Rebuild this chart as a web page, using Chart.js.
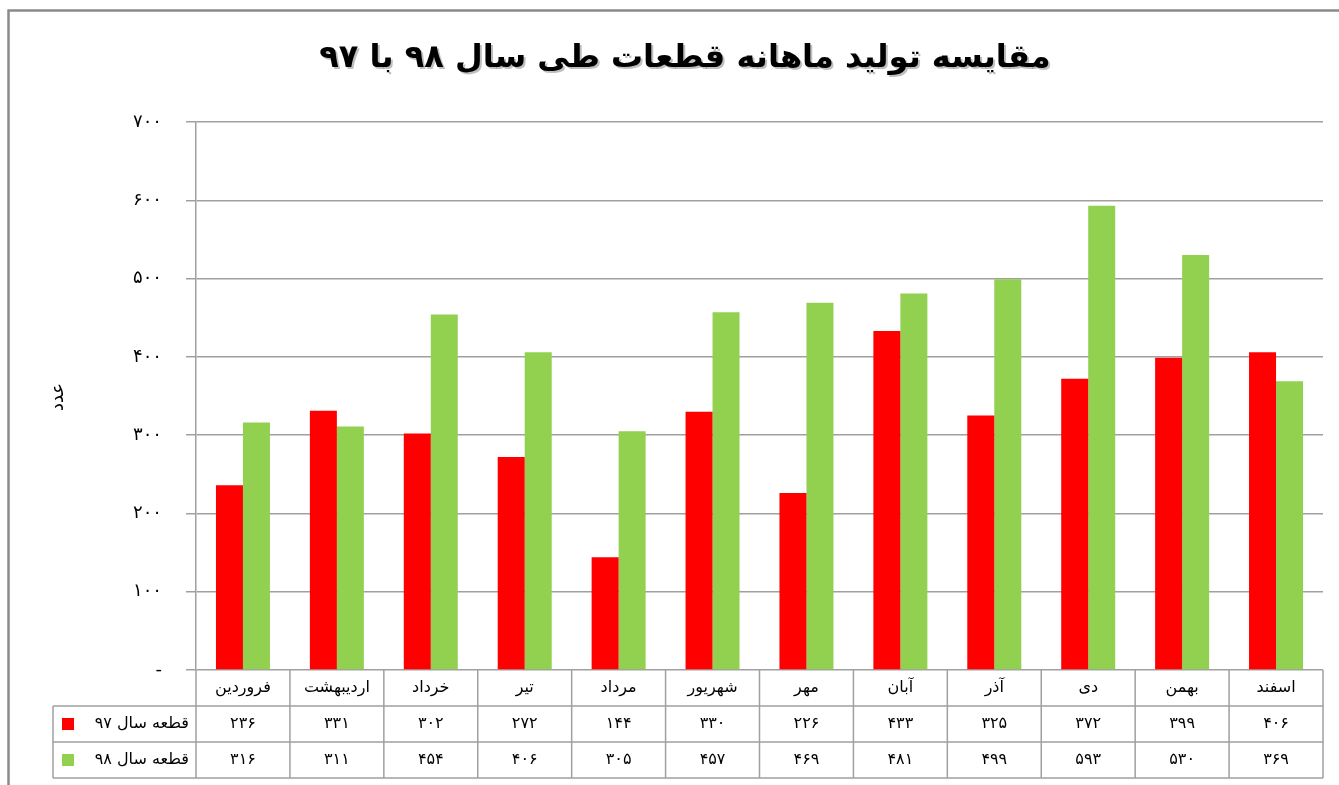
<!DOCTYPE html>
<html lang="fa">
<head>
<meta charset="utf-8">
<script src="https://cdn.jsdelivr.net/npm/chart.js@4.4.0/dist/chart.umd.min.js"></script>
<style>
  html, body { margin: 0; padding: 0; background: #fff; }
  #wrap { position: relative; width: 1339px; height: 785px; }
</style>
</head>
<body>
<div id="wrap"><canvas id="c" width="1339" height="785"></canvas></div>
<script>
const chartTitle = "مقایسه تولید ماهانه قطعات طی سال ۹۸ با ۹۷";
const yAxisTitle = "عدد";
const months = ["فروردین", "اردیبهشت", "خرداد", "تیر", "مرداد", "شهریور", "مهر", "آبان", "آذر", "دی", "بهمن", "اسفند"];
const series97Name = "قطعه سال ۹۷";
const series98Name = "قطعه سال ۹۸";
const series97 = [236, 331, 302, 272, 144, 330, 226, 433, 325, 372, 399, 406];
const series98 = [316, 311, 454, 406, 305, 457, 469, 481, 499, 593, 530, 369];
const yMin = 0, yMax = 700, yStep = 100;

const FONT = '"DejaVu Sans", "Noto Sans", sans-serif';

function fa(n) {
  return String(n).replace(/\d/g, d => "۰۱۲۳۴۵۶۷۸۹"[+d]);
}

const decorPlugin = {
  id: 'decor',
  beforeDraw(chart) {
    const ctx = chart.ctx;
    ctx.save();
    ctx.fillStyle = '#fff';
    ctx.fillRect(0, 0, chart.width, chart.height);
    ctx.restore();
  },
  afterDraw(chart) {
    const ctx = chart.ctx;
    const ca = chart.chartArea;
    const xs = chart.scales.x;
    const n = months.length;
    const colW = (ca.right - ca.left) / n;
    ctx.save();

    // outer frame
    ctx.strokeStyle = '#8a8a8a';
    ctx.lineWidth = 2.5;
    ctx.beginPath();
    ctx.moveTo(8.5, chart.height + 5);
    ctx.lineTo(8.5, 10.5);
    ctx.lineTo(chart.width + 5, 10.5);
    ctx.stroke();

    // title
    ctx.direction = 'rtl';
    ctx.textAlign = 'center';
    ctx.textBaseline = 'middle';
    ctx.font = 'bold 32px ' + FONT;
    ctx.fillStyle = 'rgba(0,0,0,0.25)';
    ctx.fillText(chartTitle, 687, 61);
    ctx.fillStyle = '#000';
    ctx.fillText(chartTitle, 685, 59);

    // y axis title
    ctx.save();
    ctx.translate(58, 397);
    ctx.rotate(-Math.PI / 2);
    ctx.font = '18px ' + FONT;
    ctx.fillStyle = '#000';
    ctx.fillText(yAxisTitle, 0, 0);
    ctx.restore();

    // data table
    const top = ca.bottom;
    const r1 = top + 36, r2 = r1 + 36, r3 = r2 + 36;
    const legL = 53;
    ctx.strokeStyle = '#a0a0a0';
    ctx.lineWidth = 1.5;
    ctx.beginPath();
    ctx.moveTo(legL, r1); ctx.lineTo(ca.right, r1);
    ctx.moveTo(legL, r2); ctx.lineTo(ca.right, r2);
    ctx.moveTo(legL, r3); ctx.lineTo(ca.right, r3);
    ctx.moveTo(legL, r1); ctx.lineTo(legL, r3);
    for (let i = 0; i <= n; i++) {
      const x = ca.left + i * colW;
      ctx.moveTo(x, top); ctx.lineTo(x, r3);
    }
    ctx.stroke();

    ctx.fillStyle = '#000';
    ctx.textBaseline = 'middle';
    ctx.textAlign = 'center';
    ctx.font = '16px ' + FONT;
    for (let i = 0; i < n; i++) {
      const cx = xs.getPixelForTick(i);
      ctx.fillText(months[i], cx, top + 18);
      ctx.fillText(fa(series97[i]), cx, r1 + 18);
      ctx.fillText(fa(series98[i]), cx, r2 + 18);
    }
    const ds = chart.data.datasets;
    ctx.fillStyle = ds[0].backgroundColor;
    ctx.fillRect(62, r1 + 12, 12, 12);
    ctx.fillStyle = ds[1].backgroundColor;
    ctx.fillRect(62, r2 + 12, 12, 12);
    ctx.fillStyle = '#000';
    ctx.textAlign = 'right';
    ctx.fillText(series97Name, 189, r1 + 18);
    ctx.fillText(series98Name, 189, r2 + 18);

    ctx.restore();
  }
};

new Chart(document.getElementById('c'), {
  type: 'bar',
  data: {
    labels: months,
    datasets: [
      { label: series97Name, data: series97, backgroundColor: '#ff0000', borderWidth: 0 },
      { label: series98Name, data: series98, backgroundColor: '#92d050', borderWidth: 0 }
    ]
  },
  options: {
    responsive: false,
    animation: false,
    devicePixelRatio: 1,
    layout: { padding: { left: 8, right: 16, top: 122, bottom: 0 } },
    plugins: { legend: { display: false }, tooltip: { enabled: false }, title: { display: false } },
    datasets: { bar: { categoryPercentage: 0.575, barPercentage: 1.0 } },
    scales: {
      x: {
        grid: { display: false },
        border: { display: false },
        ticks: { display: false },
        afterFit(scale) { scale.height = 115; }
      },
      y: {
        min: yMin, max: yMax,
        ticks: {
          stepSize: yStep,
          padding: 24,
          color: '#000',
          font: { family: FONT, size: 18 },
          callback: v => v === 0 ? '-' : fa(v)
        },
        grid: { color: '#a0a0a0', lineWidth: 1.5, tickLength: 10, drawTicks: true },
        border: { display: true, color: '#a0a0a0', width: 1.5 },
        afterFit(scale) { scale.width = 188; }
      }
    }
  },
  plugins: [decorPlugin]
});
</script>
</body>
</html>
